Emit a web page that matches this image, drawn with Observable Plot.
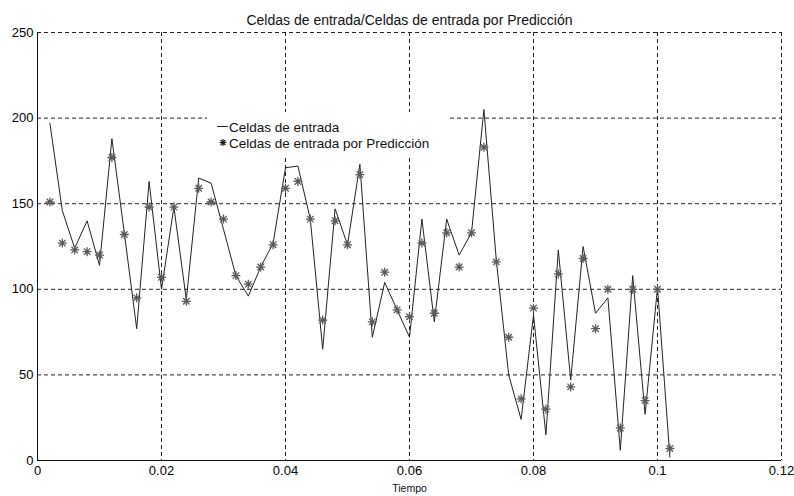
<!DOCTYPE html>
<html><head><meta charset="utf-8">
<script src="https://cdn.jsdelivr.net/npm/d3@7"></script>
<script src="https://cdn.jsdelivr.net/npm/@observablehq/plot@0.6"></script>
<style>body{margin:0;background:#fff;} svg{display:block}</style>
</head><body><div id="chart"></div>
<script>
const tiempo = [0.002,0.004,0.006,0.008,0.010,0.012,0.014,0.016,0.018,0.020,
  0.022,0.024,0.026,0.028,0.030,0.032,0.034,0.036,0.038,0.040,
  0.042,0.044,0.046,0.048,0.050,0.052,0.054,0.056,0.058,0.060,
  0.062,0.064,0.066,0.068,0.070,0.072,0.074,0.076,0.078,0.080,
  0.082,0.084,0.086,0.088,0.090,0.092,0.094,0.096,0.098,0.100,0.102];
const celdasEntrada = [197,146,124,140,114,188,133,77,163,100,
  148,94,165,162,135,108,96,113,127,171,
  172,141,65,147,126,173,72,104,88,72,
  141,81,141,120,133,205,117,50,24,85,
  15,123,47,125,86,95,6,108,27,101,2];
const celdasPrediccion = [151,127,123,122,120,177,132,95,148,107,
  148,93,159,151,141,108,103,113,126,159,
  163,141,82,140,126,167,81,110,88,84,
  127,86,133,113,133,183,116,72,36,89,
  30,109,43,118,77,100,19,100,35,100,7];
const xTicks = [0,0.02,0.04,0.06,0.08,0.1,0.12];
const xTickLabels = ["0","0.02","0.04","0.06","0.08","0.1","0.12"];
const yTicks = [0,50,100,150,200,250];
const titulo = "Celdas de entrada/Celdas de entrada por Predicción";
const etiquetaX = "Tiempo";
const serieNombres = ["Celdas de entrada","Celdas de entrada por Predicción"];

const data = tiempo.map((t,i)=>({t, entrada: celdasEntrada[i], pred: celdasPrediccion[i]}));

const starSymbol = {draw(ctx, size){
  const r = Math.sqrt(size/Math.PI), d = r*0.72;
  ctx.moveTo(-r,0); ctx.lineTo(r,0);
  ctx.moveTo(0,-r); ctx.lineTo(0,r);
  ctx.moveTo(-d,-d); ctx.lineTo(d,d);
  ctx.moveTo(-d,d); ctx.lineTo(d,-d);
}};

const font = "'Liberation Sans', Arial, Helvetica, sans-serif";
const gridStyle = {stroke:"#222", strokeOpacity:1, strokeWidth:1, strokeDasharray:"4,3"};

const plot = Plot.plot({
  width: 794, height: 496,
  marginLeft: 37, marginRight: 13, marginTop: 32, marginBottom: 36,
  style: {fontFamily: font, fontSize: "13px", color: "#000", background: "#fff", overflow: "visible"},
  x: {domain:[0,0.12]},
  y: {domain:[0,250]},
  marks: [
    Plot.gridX(xTicks, gridStyle),
    Plot.gridY(yTicks, gridStyle),
    Plot.axisX(xTicks, {tickSize: 0, tickPadding: 5, label: null, tickFormat: d => xTickLabels[xTicks.indexOf(d)], fontSize: 13}),
    Plot.axisY(yTicks, {tickSize: 0, tickPadding: 4, label: null, fontSize: 13}),
    Plot.ruleX([0], {stroke:"#111"}),
    Plot.ruleY([0], {stroke:"#111"}),
    Plot.line(data, {x:"t", y:"entrada", stroke:"#222", strokeWidth:1}),
    Plot.dot(data, {x:"t", y:"pred", symbol: starSymbol, r:4.5, stroke:"#5a5a5a", strokeWidth:1.3}),
    Plot.text([titulo], {frameAnchor:"top", dy:-17, fontSize:14, fill:"#111"}),
    Plot.text([etiquetaX], {frameAnchor:"bottom", dy:31, fontSize:10.5, fill:"#111"})
  ]
});

const svg = d3.select(plot);
const lg = svg.append("g").attr("font-family", font).attr("font-size", 13.5).attr("fill", "#111").attr("text-anchor", "start");
lg.append("rect").attr("x", 207).attr("y", 112).attr("width", 240).attr("height", 46).attr("fill", "#fff");
lg.append("line").attr("x1", 217).attr("x2", 228).attr("y1", 126.5).attr("y2", 126.5).attr("stroke", "#222");
lg.append("text").attr("x", 229).attr("y", 131.5).attr("text-anchor", "start").text(serieNombres[0]);
lg.append("path").attr("transform", "translate(223,142.5)")
  .attr("d", "M-3.5,0H3.5M0,-3.5V3.5M-2.5,-2.5L2.5,2.5M-2.5,2.5L2.5,-2.5")
  .attr("stroke", "#222").attr("stroke-width", 1.2).attr("fill", "none");
lg.append("text").attr("x", 229).attr("y", 147.5).attr("text-anchor", "start").text(serieNombres[1]);

document.getElementById("chart").appendChild(plot);
</script>
</body></html>
